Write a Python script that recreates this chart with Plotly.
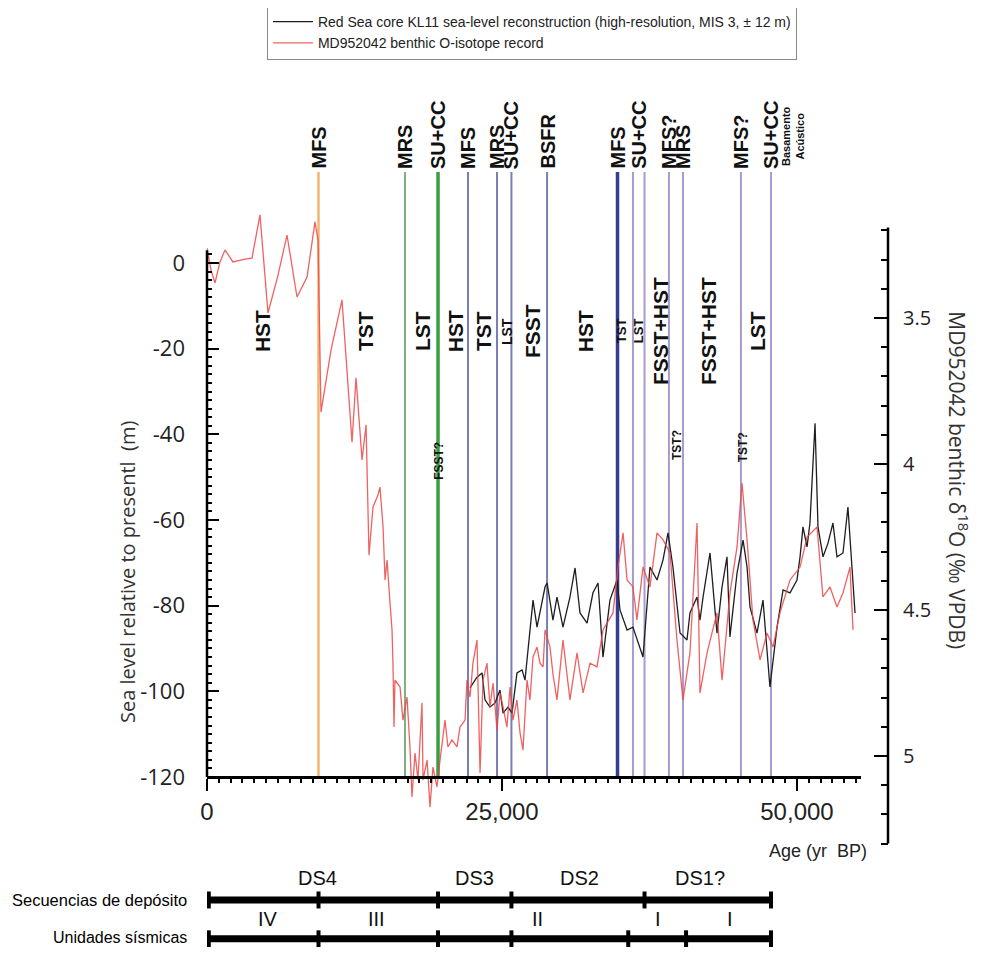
import plotly.graph_objects as go

# ---------------- data ----------------
red_age = [0, 340, 680, 1100, 1530, 2200, 3220, 3810, 4490, 5170, 6020, 6780, 7630, 8480, 9150, 9410,
           9660, 10510, 11440, 12290, 12630, 13140, 13480, 13730, 14070, 14490, 14660, 14920, 15090,
           15260, 15510, 15680, 15760, 15850, 15930, 16360, 16610, 16950, 17200, 17370, 17630, 17880,
           18220, 18310, 18650, 18900, 19150, 19490, 19750, 20170, 20420, 20760, 21190, 21440, 21870,
           22030, 22290, 22540, 22880, 22970, 23140, 23390, 23730, 23980, 24240, 24580, 24830, 25090,
           25420, 25680, 25930, 26270, 26530, 26780, 27120, 27370, 27630, 27970, 28220, 28480, 28650,
           29070, 29320, 29660, 30170, 30760, 31360, 31870, 32460, 33050, 33560, 34410, 34830, 35260,
           35600, 36100, 36440, 36950, 37540, 38140, 38650, 39240, 39830, 40340, 40930, 41530, 41780,
           42380, 43220, 43650, 44320, 44920, 45340, 45770, 46270, 46870, 47460, 47970, 48560, 49410,
           50260, 50850, 51700, 52200, 52800, 53390, 53900, 54490, 54750]
red_d18o = [3.260, 3.336, 3.380, 3.308, 3.267, 3.308, 3.298, 3.295, 3.147, 3.483, 3.353, 3.216, 3.428,
            3.360, 3.171, 3.233, 3.822, 3.610, 3.438, 3.925, 3.705, 3.986, 3.866, 4.312, 4.147, 4.106,
            4.079, 4.216, 4.397, 4.329, 4.476, 4.568, 4.682, 4.901, 4.740, 4.764, 4.877, 4.798, 4.969,
            5.140, 4.990, 5.082, 4.818, 5.082, 5.014, 5.175, 5.038, 5.106, 5.014, 4.877, 4.969, 4.945,
            4.969, 4.901, 4.877, 4.740, 4.798, 4.682, 4.603, 4.740, 5.058, 4.740, 4.682, 4.832, 4.750,
            4.911, 4.784, 4.832, 4.901, 4.764, 4.877, 4.808, 4.921, 4.979, 4.740, 4.808, 4.661, 4.627,
            4.682, 4.695, 4.568, 4.627, 4.720, 4.808, 4.603, 4.808, 4.647, 4.784, 4.682, 4.695, 4.568,
            4.510, 4.353, 4.236, 4.397, 4.421, 4.534, 4.353, 4.421, 4.236, 4.260, 4.305, 4.603, 4.808,
            4.647, 4.202, 4.784, 4.647, 4.510, 4.740, 4.442, 4.284, 4.065, 4.260, 4.534, 4.671, 4.579,
            4.627, 4.510, 4.397, 4.353, 4.250, 4.216, 4.455, 4.421, 4.490, 4.442, 4.353, 4.568]

kl11_age = [22290, 22880, 23310, 23560, 23980, 24410, 24830, 25090, 25510, 25850, 26270, 26700, 26950,
            27370, 27630, 27970, 28220, 28650, 28820, 29320, 29660, 30170, 30760, 31190, 31610, 32210,
            32710, 33140, 33560, 34150, 34750, 35000, 35600, 36100, 36950, 37290, 37540, 38140, 38650,
            39070, 39490, 40090, 40680, 40930, 41530, 41780, 42040, 42630, 43220, 43650, 44070, 44320,
            44920, 45430, 45770, 46020, 46610, 47120, 47710, 48310, 48820, 49410, 50000, 50260, 50510,
            50850, 51100, 51530, 51780, 52210, 52630, 53050, 53390, 53900, 54320, 54660, 54920]
kl11_sl = [-99.2, -96.7, -95.7, -102.0, -103.7, -102.7, -99.7, -105.1, -103.7, -105.1, -95.7, -95.0, -97.4,
           -85.7, -78.7, -85.0, -81.7, -75.6, -74.7, -83.4, -78.0, -85.0, -78.0, -71.2, -81.7, -84.1,
           -77.0, -74.7, -92.0, -78.7, -74.0, -81.0, -85.7, -85.0, -92.0, -80.3, -71.0, -74.0, -69.3,
           -63.0, -71.0, -86.4, -88.0, -81.7, -78.0, -83.4, -78.0, -67.7, -86.4, -75.6, -68.6, -87.3,
           -72.4, -64.7, -71.0, -80.3, -86.4, -78.7, -99.0, -85.0, -76.3, -77.0, -74.0, -68.6, -61.6,
           -66.3, -60.7, -37.4, -61.6, -68.6, -65.4, -60.7, -68.6, -67.7, -57.0, -71.0, -81.7]

# stratigraphic surfaces (age, yr BP)
surface_age = [9450, 16780, 19580, 22120, 24580, 25800, 28820, 34790, 36100, 37080, 39150, 40340, 45250, 47800]
surface_color = ["#F5B46E", "#7FB07F", "#3A9D42", "#7A7EB0", "#7A7EB0", "#7A7EB0", "#7A7EB0",
                 "#363C8E", "#A99BCB", "#A99BCB", "#A99BCB", "#A99BCB", "#A99BCB", "#A99BCB"]
surface_width = [2.5, 2, 3.5, 2, 2, 2, 2, 3.5, 2, 2, 2, 2, 2, 2]

top_label_age = [9450, 16780, 19580, 22120, 24580, 25800, 28820, 34790, 36600, 39150, 40340, 45250, 47800]
top_label_text = ["MFS", "MRS", "SU+CC", "MFS", "MRS", "SU+CC", "BSFR", "MFS", "SU+CC", "MFS?", "MRS", "MFS?", "SU+CC"]
basement_age = 49660
basement_text = "Basamento<br>Acústico"

tract_age = [4660, 13390, 18220, 21020, 23390, 25420, 27540, 32040, 35090, 36530, 38390, 42460, 46610]
tract_text = ["HST", "TST", "LST", "HST", "TST", "LST", "FSST", "HST", "TST", "LST", "FSST+HST", "FSST+HST", "LST"]
tract_size = [21, 21, 21, 21, 21, 14, 21, 21, 13, 13, 21, 21, 21]
tract_level = -15.9

q_age = [19660, 39830, 45430]
q_text = ["FSST?", "TST?", "TST?"]
q_level = [-46.2, -42.5, -43.0]

seq_bounds = [150, 9450, 19580, 25800, 37080, 47800]
seq_label_age = [9400, 22630, 31610, 41780]
seq_label = ["DS4", "DS3", "DS2", "DS1?"]
unit_bounds = [150, 9450, 19580, 25800, 35700, 40600, 47800]
unit_label_age = [5170, 14400, 27970, 38220, 44320]
unit_label = ["IV", "III", "II", "I", "I"]

x_major = list(range(0, 55001, 5000))
x_text = {0: "0", 25000: "25,000", 50000: "50,000"}
y_major = list(range(-120, 1, 10))
y2_major = [3.5, 4.0, 4.5, 5.0]

# ---------------- figure ----------------
NARROW = "Liberation Sans Narrow, Liberation Sans, Arial Narrow, sans-serif"
SANS = "Open Sans, Noto Sans, sans-serif"
BOLD = "Liberation Sans, Arial, sans-serif"
Y_TOP = 21.25
X_MAX = 55426

fig = go.Figure()
fig.add_trace(go.Scatter(x=kl11_age, y=kl11_sl, mode="lines", yaxis="y",
                         line=dict(color="#1e1e1e", width=1.3),
                         name="Red Sea core KL11 sea-level reconstruction (high-resolution, MIS 3, \u00b1 12 m)"))
fig.add_trace(go.Scatter(x=red_age, y=red_d18o, mode="lines", yaxis="y2",
                         line=dict(color="rgba(236,70,70,0.85)", width=1.3),
                         name="MD952042 benthic O-isotope record"))

shapes = []
for a, c, w in zip(surface_age, surface_color, surface_width):
    shapes.append(dict(type="line", xref="x", yref="y", x0=a, x1=a, y0=-120, y1=Y_TOP,
                       line=dict(color=c, width=w), layer="below"))
# axis lines
shapes.append(dict(type="line", xref="paper", yref="y", x0=0, x1=0, y0=-120, y1=3,
                   line=dict(color="black", width=2.5)))
shapes.append(dict(type="line", xref="paper", yref="y2", x0=1, x1=1, y0=3.19, y1=5.3,
                   line=dict(color="black", width=2.5)))

annotations = []
for a, t in zip(top_label_age, top_label_text):
    annotations.append(dict(x=a, y=1, xref="x", yref="paper", text="<b>%s</b>" % t, textangle=-90,
                            showarrow=False, xanchor="center", yanchor="bottom", yshift=1,
                            font=dict(family=BOLD, size=20, color="#111")))
annotations.append(dict(x=basement_age, y=1, xref="x", yref="paper", text="<b>%s</b>" % basement_text,
                        textangle=-90, showarrow=False, xanchor="center", yanchor="bottom", yshift=4,
                        font=dict(family=BOLD, size=11, color="#111")))
for a, t, s in zip(tract_age, tract_text, tract_size):
    annotations.append(dict(x=a, y=tract_level, xref="x", yref="y", text="<b>%s</b>" % t, textangle=-90,
                            showarrow=False, xanchor="center", yanchor="middle",
                            font=dict(family=BOLD, size=s, color="#111")))
for a, t, lv in zip(q_age, q_text, q_level):
    annotations.append(dict(x=a, y=lv, xref="x", yref="y", text="<b>%s</b>" % t, textangle=-90,
                            showarrow=False, xanchor="center", yanchor="middle",
                            font=dict(family=BOLD, size=12, color="#111")))

# depositional sequences / seismic units bars
SEQ_Y = -0.0737
UNIT_Y = -0.1310
for bounds, yy in ((seq_bounds, SEQ_Y), (unit_bounds, UNIT_Y)):
    shapes.append(dict(type="line", xref="x", yref="paper", x0=bounds[0], x1=bounds[-1], y0=yy, y1=yy,
                       line=dict(color="black", width=7)))
    for b in bounds:
        shapes.append(dict(type="line", xref="x", yref="paper", x0=b, x1=b, y0=yy - 0.0125, y1=yy + 0.0125,
                           line=dict(color="black", width=4)))
for a, t in zip(seq_label_age, seq_label):
    annotations.append(dict(x=a, y=SEQ_Y + 0.0325, xref="x", yref="paper", text=t, showarrow=False,
                            xanchor="center", yanchor="middle", font=dict(family=NARROW, size=20, color="#111")))
for a, t in zip(unit_label_age, unit_label):
    annotations.append(dict(x=a, y=UNIT_Y + 0.029, xref="x", yref="paper", text=t, showarrow=False,
                            xanchor="center", yanchor="middle", font=dict(family=NARROW, size=20, color="#111")))
annotations.append(dict(x=-0.027, y=SEQ_Y, xref="paper", yref="paper", text="Secuencias de depósito",
                        showarrow=False, xanchor="right", yanchor="middle",
                        font=dict(family=NARROW, size=16.5, color="#000")))
annotations.append(dict(x=-0.027, y=UNIT_Y, xref="paper", yref="paper", text="Unidades sísmicas",
                        showarrow=False, xanchor="right", yanchor="middle", yshift=1,
                        font=dict(family=NARROW, size=16, color="#000")))

# axis titles
annotations.append(dict(x=-0.1175, y=0.41, xref="paper", yref="paper", textangle=-90,
                        text="Sea level relative to presentl  (m)", showarrow=False,
                        xanchor="center", yanchor="middle", font=dict(family=SANS, size=20, color="#333")))
annotations.append(dict(x=1.103, y=0.545, xref="paper", yref="paper", textangle=90,
                        text="MD952042 benthic \u03b4<sup>18</sup>O (\u2030 VPDB)", showarrow=False,
                        xanchor="center", yanchor="middle", font=dict(family=SANS, size=21, color="#333")))
annotations.append(dict(x=X_MAX, y=-0.002, xref="x", yref="paper", text="Age (yr  BP)", showarrow=False,
                        xanchor="right", yanchor="middle", xshift=8,
                        font=dict(family=NARROW, size=18, color="#222")))

# the page adds an 8px body margin: figure is laid out 8px smaller on each side
fig.update_layout(
    template="none",
    width=968, height=939,
    margin=dict(l=199, r=88, t=164, b=97, autoexpand=False),
    plot_bgcolor="white", paper_bgcolor="white",
    shapes=shapes, annotations=annotations,
    showlegend=True,
    legend=dict(x=0.088, y=1.2463, xanchor="left", yanchor="top", bgcolor="white",
                bordercolor="#8a8a8a", borderwidth=1, font=dict(family=NARROW, size=14, color="#222"),
                tracegroupgap=0, itemwidth=40),
    xaxis=dict(domain=[0, 654 / 681], range=[0, X_MAX], anchor="free", position=0.10767, automargin=False,
               showline=True, linecolor="black", linewidth=2.5, showgrid=False, zeroline=False,
               ticks="outside", tickvals=x_major, ticktext=[x_text.get(v, "") for v in x_major],
               ticklen=12, tickwidth=2, tickcolor="black",
               minor=dict(tickvals=list(range(0, 55001, 1000)), ticks="outside", ticklen=4,
                          tickwidth=1.5, tickcolor="black"),
               tickfont=dict(family=NARROW, size=24, color="#222")),
    yaxis=dict(range=[-137.05, Y_TOP], showline=False, showgrid=False, zeroline=False, automargin=False,
               ticks="inside", tickvals=y_major,
               ticktext=[("%d" % v if v % 20 == 0 else "") for v in y_major],
               ticklen=12, tickwidth=2, tickcolor="black", ticklabelstandoff=21,
               minor=dict(tickvals=list(range(-120, 3, 2)), ticks="inside", ticklen=5, tickwidth=1.5,
                          tickcolor="black"),
               tickfont=dict(family=SANS, size=22, color="#222")),
    yaxis2=dict(overlaying="y", side="right", anchor="free", position=1, range=[5.3219, 3.0],
                automargin=False,
                showline=False, showgrid=False, zeroline=False, ticks="inside", tickvals=y2_major,
                ticktext=["3.5", "4", "4.5", "5"], ticklen=14, tickwidth=2, tickcolor="black",
                ticklabelstandoff=14,
                minor=dict(tickvals=[round(3.2 + 0.1 * i, 1) for i in range(22)], ticks="inside",
                           ticklen=7, tickwidth=1.5, tickcolor="black"),
                tickfont=dict(family=SANS, size=20, color="#222")),
)

fig.write_html("out.html")
